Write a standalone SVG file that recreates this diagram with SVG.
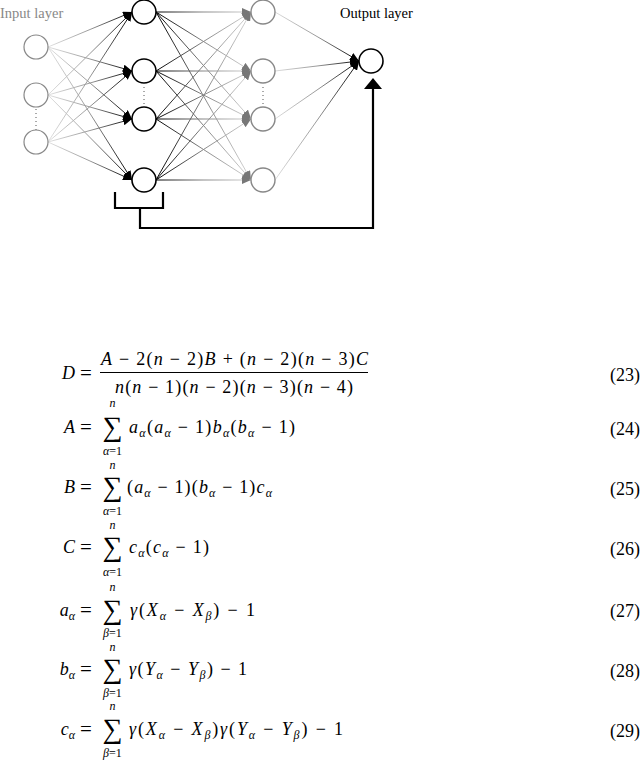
<svg xmlns="http://www.w3.org/2000/svg" width="640" height="768" viewBox="0 0 640 768" font-family="'Liberation Serif', 'DejaVu Serif', serif">
<style>
text{font-family:'Liberation Serif','DejaVu Serif',serif;fill:#000}
.lbl{font-size:14.5px}
.eq{font-size:18px}
.i{font-style:italic}
.s{font-size:12px;font-style:italic}
.su{font-size:12px}
.sum{font-size:28px}
.num{font-size:18px}
.n1{fill:#fff;stroke:#888;stroke-width:1.2}
.n2{fill:#fff;stroke:#000;stroke-width:1.6}
.n3{fill:#fff;stroke:#888;stroke-width:1.4}
.e1{stroke:url(#g1);stroke-width:1;fill:none;marker-end:url(#m1)}
.e2{stroke:url(#g2);stroke-width:1;fill:none;marker-end:url(#m2)}
.e3{stroke:url(#g3);stroke-width:1;fill:none;marker-end:url(#m1)}
.dots{stroke:#555;stroke-width:1;stroke-dasharray:1 3}
.thick{stroke:#000;stroke-width:2.2;fill:none}
</style>
<defs>
<linearGradient id="g1" gradientUnits="userSpaceOnUse" x1="48" y1="0" x2="132" y2="0"><stop offset="0" stop-color="#e2e2e2"/><stop offset="0.5" stop-color="#999"/><stop offset="1" stop-color="#000"/></linearGradient>
<linearGradient id="g2" gradientUnits="userSpaceOnUse" x1="156" y1="0" x2="251" y2="0"><stop offset="0" stop-color="#000"/><stop offset="0.5" stop-color="#888"/><stop offset="1" stop-color="#d6d6d6"/></linearGradient>
<linearGradient id="g3" gradientUnits="userSpaceOnUse" x1="275" y1="0" x2="359" y2="0"><stop offset="0" stop-color="#ddd"/><stop offset="0.5" stop-color="#999"/><stop offset="1" stop-color="#000"/></linearGradient>
<marker id="m1" markerUnits="userSpaceOnUse" markerWidth="9" markerHeight="8" refX="9" refY="4" orient="auto"><path d="M0,0 L9,4 L0,8 z" fill="#000"/></marker>
<marker id="m2" markerUnits="userSpaceOnUse" markerWidth="9" markerHeight="8" refX="9" refY="4" orient="auto"><path d="M0,0 L9,4 L0,8 z" fill="#777"/></marker>
</defs>

<g id="connectors">
<line class="e1" x1="48" y1="47" x2="132" y2="12"/>
<line class="e1" x1="48" y1="47" x2="132" y2="71"/>
<line class="e1" x1="48" y1="47" x2="132" y2="119"/>
<line class="e1" x1="48" y1="47" x2="132" y2="180"/>
<line class="e1" x1="48" y1="95" x2="132" y2="12"/>
<line class="e1" x1="48" y1="95" x2="132" y2="71"/>
<line class="e1" x1="48" y1="95" x2="132" y2="119"/>
<line class="e1" x1="48" y1="95" x2="132" y2="180"/>
<line class="e1" x1="48" y1="142" x2="132" y2="12"/>
<line class="e1" x1="48" y1="142" x2="132" y2="71"/>
<line class="e1" x1="48" y1="142" x2="132" y2="119"/>
<line class="e1" x1="48" y1="142" x2="132" y2="180"/>

<line class="e2" x1="156" y1="12" x2="251" y2="12"/>
<line class="e2" x1="156" y1="12" x2="251" y2="71"/>
<line class="e2" x1="156" y1="12" x2="251" y2="119"/>
<line class="e2" x1="156" y1="12" x2="251" y2="180"/>
<line class="e2" x1="156" y1="71" x2="251" y2="12"/>
<line class="e2" x1="156" y1="71" x2="251" y2="71"/>
<line class="e2" x1="156" y1="71" x2="251" y2="119"/>
<line class="e2" x1="156" y1="71" x2="251" y2="180"/>
<line class="e2" x1="156" y1="119" x2="251" y2="12"/>
<line class="e2" x1="156" y1="119" x2="251" y2="71"/>
<line class="e2" x1="156" y1="119" x2="251" y2="119"/>
<line class="e2" x1="156" y1="119" x2="251" y2="180"/>
<line class="e2" x1="156" y1="180" x2="251" y2="12"/>
<line class="e2" x1="156" y1="180" x2="251" y2="71"/>
<line class="e2" x1="156" y1="180" x2="251" y2="119"/>
<line class="e2" x1="156" y1="180" x2="251" y2="180"/>

<line class="e3" x1="275" y1="12" x2="359" y2="61"/>
<line class="e3" x1="275" y1="71" x2="359" y2="61"/>
<line class="e3" x1="275" y1="119" x2="359" y2="61"/>
<line class="e3" x1="275" y1="180" x2="359" y2="61"/>

<path class="thick" d="M115,192 V208 H163 V192"/>
<path class="thick" d="M140,208 V228 H373 V88"/>
<path d="M364,89 L373,78 L382,89 z" fill="#000"/>

<line class="dots" x1="36" y1="109" x2="36" y2="130"/>
<line class="dots" x1="144" y1="87" x2="144" y2="104"/>
<line class="dots" x1="263" y1="87" x2="263" y2="104"/>
</g>

<g id="input-nodes">
<circle id="in1" class="n1" cx="36" cy="47" r="12"/>
<circle id="in2" class="n1" cx="36" cy="95" r="12"/>
<circle id="in3" class="n1" cx="36" cy="142" r="12"/>
</g>
<g id="hidden1-nodes">
<circle id="h1" class="n2" cx="144" cy="12" r="12"/>
<circle id="h2" class="n2" cx="144" cy="71" r="12"/>
<circle id="h3" class="n2" cx="144" cy="119" r="12"/>
<circle id="h4" class="n2" cx="144" cy="180" r="12"/>
</g>
<g id="hidden2-nodes">
<circle id="k1" class="n3" cx="263" cy="12" r="12"/>
<circle id="k2" class="n3" cx="263" cy="71" r="12"/>
<circle id="k3" class="n3" cx="263" cy="119" r="12"/>
<circle id="k4" class="n3" cx="263" cy="180" r="12"/>
</g>
<g id="output-node">
<circle id="out" class="n2" cx="371" cy="61" r="12"/>
</g>
<g id="labels">
<text class="lbl" x="0" y="18" style="fill:#888">Input layer</text>
<text class="lbl" x="340" y="18">Output layer</text>
</g>

<g id="equations" class="eq">
<!-- 23 -->
<text class="eq i" x="75" y="379" text-anchor="end">D</text>
<text class="eq" x="80" y="380" style="font-size:21px">=</text>
<text class="eq" x="101" y="365" textLength="267" lengthAdjust="spacing"><tspan class="i">A</tspan> − 2(<tspan class="i">n</tspan> − 2)<tspan class="i">B</tspan> + (<tspan class="i">n</tspan> − 2)(<tspan class="i">n</tspan> − 3)<tspan class="i">C</tspan></text>
<line x1="100" y1="372.5" x2="368" y2="372.5" stroke="#000" stroke-width="1"/>
<text class="eq" x="115" y="393" textLength="238" lengthAdjust="spacing"><tspan class="i">n</tspan>(<tspan class="i">n</tspan> − 1)(<tspan class="i">n</tspan> − 2)(<tspan class="i">n</tspan> − 3)(<tspan class="i">n</tspan> − 4)</text>
<text class="num" x="640" y="381" text-anchor="end">(23)</text>

<!-- 24 -->
<text class="eq i" x="75" y="433" text-anchor="end">A</text>
<text class="eq" x="80" y="434" style="font-size:21px">=</text>
<text class="sum" x="112.5" y="436" text-anchor="middle">∑</text>
<text class="s" x="112.5" y="407" text-anchor="middle">n</text>
<text class="su" x="112.5" y="455" text-anchor="middle"><tspan class="s">α</tspan>=1</text>
<text class="eq" x="129" y="433" textLength="166" lengthAdjust="spacing"><tspan class="i">a</tspan><tspan class="s" dy="4">α</tspan><tspan dy="-4">(</tspan><tspan class="i">a</tspan><tspan class="s" dy="4">α</tspan><tspan dy="-4"> − 1)</tspan><tspan class="i">b</tspan><tspan class="s" dy="4">α</tspan><tspan dy="-4">(</tspan><tspan class="i">b</tspan><tspan class="s" dy="4">α</tspan><tspan dy="-4"> − 1)</tspan></text>
<text class="num" x="640" y="435" text-anchor="end">(24)</text>

<!-- 25 -->
<text class="eq i" x="75" y="493" text-anchor="end">B</text>
<text class="eq" x="80" y="494" style="font-size:21px">=</text>
<text class="sum" x="112.5" y="496" text-anchor="middle">∑</text>
<text class="s" x="112.5" y="469" text-anchor="middle">n</text>
<text class="su" x="112.5" y="515" text-anchor="middle"><tspan class="s">α</tspan>=1</text>
<text class="eq" x="127" y="493" textLength="145" lengthAdjust="spacing">(<tspan class="i">a</tspan><tspan class="s" dy="4">α</tspan><tspan dy="-4"> − 1)(</tspan><tspan class="i">b</tspan><tspan class="s" dy="4">α</tspan><tspan dy="-4"> − 1)</tspan><tspan class="i">c</tspan><tspan class="s" dy="4">α</tspan></text>
<text class="num" x="640" y="495" text-anchor="end">(25)</text>

<!-- 26 -->
<text class="eq i" x="75" y="553" text-anchor="end">C</text>
<text class="eq" x="80" y="554" style="font-size:21px">=</text>
<text class="sum" x="112.5" y="556" text-anchor="middle">∑</text>
<text class="s" x="112.5" y="529" text-anchor="middle">n</text>
<text class="su" x="112.5" y="576" text-anchor="middle"><tspan class="s">α</tspan>=1</text>
<text class="eq" x="129" y="553" textLength="80" lengthAdjust="spacing"><tspan class="i">c</tspan><tspan class="s" dy="4">α</tspan><tspan dy="-4">(</tspan><tspan class="i">c</tspan><tspan class="s" dy="4">α</tspan><tspan dy="-4"> − 1)</tspan></text>
<text class="num" x="640" y="555" text-anchor="end">(26)</text>

<!-- 27 -->
<text class="eq" x="75" y="616" text-anchor="end"><tspan class="i">a</tspan><tspan class="s" dy="4">α</tspan></text>
<text class="eq" x="80" y="617" style="font-size:21px">=</text>
<text class="sum" x="112.5" y="619" text-anchor="middle">∑</text>
<text class="s" x="112.5" y="591" text-anchor="middle">n</text>
<text class="su" x="112.5" y="637" text-anchor="middle"><tspan class="s">β</tspan>=1</text>
<text class="eq" x="130" y="616" textLength="125" lengthAdjust="spacing"><tspan class="i">γ</tspan>(<tspan class="i">X</tspan><tspan class="s" dy="4">α</tspan><tspan dy="-4"> − </tspan><tspan class="i">X</tspan><tspan class="s" dy="4">β</tspan><tspan dy="-4">) − 1</tspan></text>
<text class="num" x="640" y="617" text-anchor="end">(27)</text>

<!-- 28 -->
<text class="eq" x="75" y="675" text-anchor="end"><tspan class="i">b</tspan><tspan class="s" dy="4">α</tspan></text>
<text class="eq" x="80" y="676" style="font-size:21px">=</text>
<text class="sum" x="112.5" y="678" text-anchor="middle">∑</text>
<text class="s" x="112.5" y="651" text-anchor="middle">n</text>
<text class="su" x="112.5" y="697" text-anchor="middle"><tspan class="s">β</tspan>=1</text>
<text class="eq" x="129" y="675" textLength="118" lengthAdjust="spacing"><tspan class="i">γ</tspan>(<tspan class="i">Y</tspan><tspan class="s" dy="4">α</tspan><tspan dy="-4"> − </tspan><tspan class="i">Y</tspan><tspan class="s" dy="4">β</tspan><tspan dy="-4">) − 1</tspan></text>
<text class="num" x="640" y="677" text-anchor="end">(28)</text>

<!-- 29 -->
<text class="eq" x="75" y="735" text-anchor="end"><tspan class="i">c</tspan><tspan class="s" dy="4">α</tspan></text>
<text class="eq" x="80" y="736" style="font-size:21px">=</text>
<text class="sum" x="112.5" y="738" text-anchor="middle">∑</text>
<text class="s" x="112.5" y="710" text-anchor="middle">n</text>
<text class="su" x="112.5" y="757" text-anchor="middle"><tspan class="s">β</tspan>=1</text>
<text class="eq" x="129" y="735" textLength="214" lengthAdjust="spacing"><tspan class="i">γ</tspan>(<tspan class="i">X</tspan><tspan class="s" dy="4">α</tspan><tspan dy="-4"> − </tspan><tspan class="i">X</tspan><tspan class="s" dy="4">β</tspan><tspan dy="-4">)</tspan><tspan class="i">γ</tspan>(<tspan class="i">Y</tspan><tspan class="s" dy="4">α</tspan><tspan dy="-4"> − </tspan><tspan class="i">Y</tspan><tspan class="s" dy="4">β</tspan><tspan dy="-4">) − 1</tspan></text>
<text class="num" x="640" y="737" text-anchor="end">(29)</text>
</g>
</svg>
